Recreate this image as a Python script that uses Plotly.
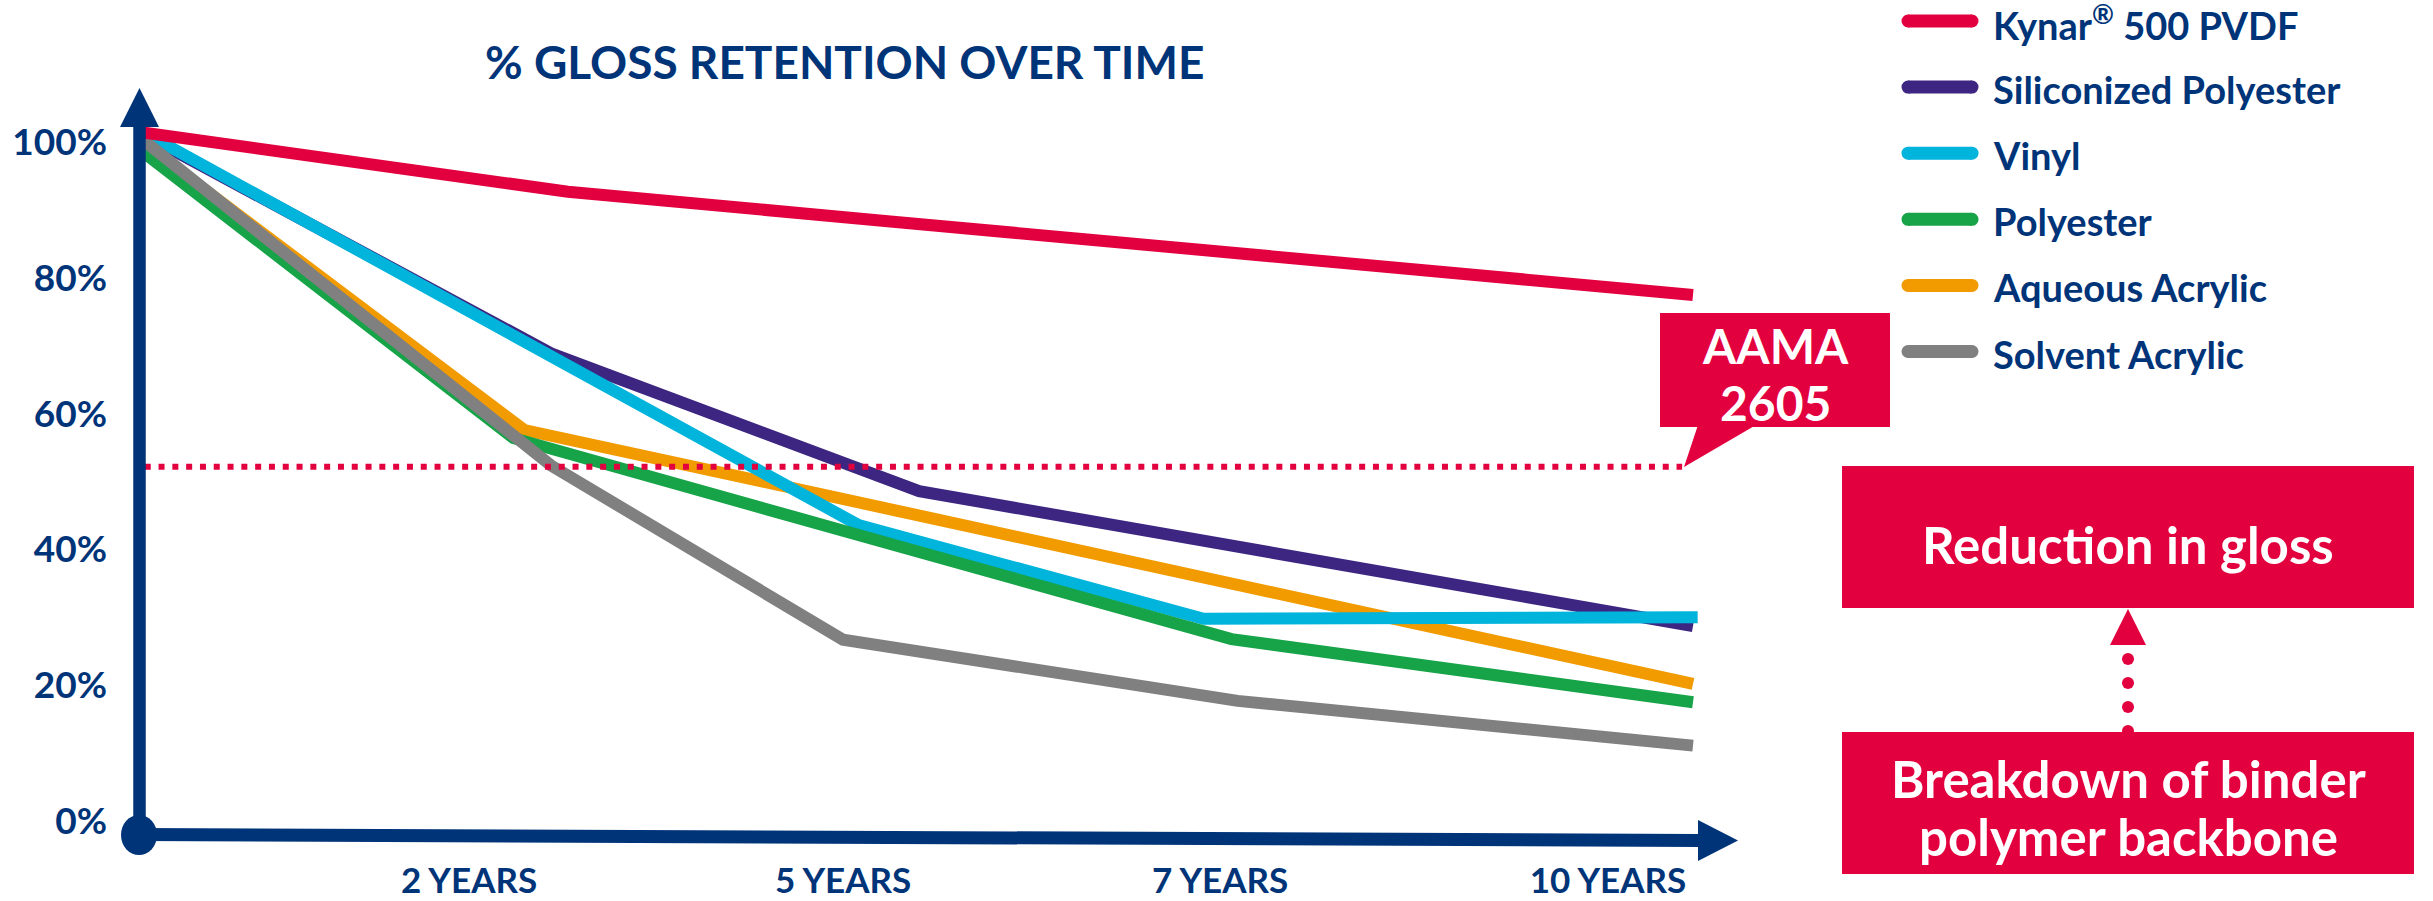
import plotly.graph_objects as go

# ---------------- data ----------------
series_names = ["Kynar<sup>®</sup> 500 PVDF", "Siliconized Polyester", "Vinyl",
                "Polyester", "Aqueous Acrylic", "Solvent Acrylic"]
series_colors = ["#E3003F", "#3D2682", "#00B4DC", "#17A348", "#F29B00", "#808080"]

# x positions (years on the drawn axis) and % gloss retained
kynar_x = [0, 2.76, 4.8, 7.0, 10.0]
kynar_y = [101.5, 92.7, 88.4, 83.8, 77.5]

silicon_x = [0, 2.66, 5.02, 7.0, 10.0]
silicon_y = [101.5, 68.8, 48.6, 40.7, 28.7]

vinyl_x = [0, 2.66, 4.63, 6.85, 10.03]
vinyl_y = [101.8, 68.4, 43.6, 29.8, 30.0]

polyester_x = [0, 2.41, 4.9, 7.03, 10.0]
polyester_y = [99.0, 56.4, 40.4, 26.8, 17.5]

aqueous_x = [0, 2.48, 4.8, 7.0, 10.0]
aqueous_y = [100.3, 57.6, 46.1, 35.1, 20.2]

solvent_x = [0, 2.65, 4.53, 7.07, 10.0]
solvent_y = [100.8, 52.4, 26.7, 17.7, 11.1]

series_x = [kynar_x, silicon_x, vinyl_x, polyester_x, aqueous_x, solvent_x]
series_y = [kynar_y, silicon_y, vinyl_y, polyester_y, aqueous_y, solvent_y]
draw_order = [1, 4, 2, 3, 5, 0]   # bottom -> top

x_tick_labels = ["2 YEARS", "5 YEARS", "7 YEARS", "10 YEARS"]
x_tick_pos = [2.124, 4.531, 6.957, 9.453]
y_tick_vals = [0, 20, 40, 60, 80, 100]
y_tick_labels = ["0%", "20%", "40%", "60%", "80%", "100%"]

aama_threshold = 52.2

title_text = "% GLOSS RETENTION OVER TIME"
aama_lines = ["AAMA", "2605"]
box_top_text = "Reduction in gloss"
box_bottom_lines = ["Breakdown of binder", "polymer backbone"]

# ---------------- layout geometry ----------------
W, H = 2433, 901
ML, MB = 139, 44
PW, PH = W - ML, H - MB
PX_PER_YEAR = 155.4
Y0_PX, Y100_PX = 821.0, 142.2
PX_PER_PCT = (Y0_PX - Y100_PX) / 100.0

NAVY = "#003479"
RED = "#E3003F"
FONT = "Lato"


def px(xp):
    return (xp - ML) / PW


def py(yp):
    return 1 - yp / PH


def path(points):
    return "M " + " L ".join(f"{px(a):.5f},{py(b):.5f}" for a, b in points) + " Z"


fig = go.Figure()

for i in draw_order:
    fig.add_trace(go.Scatter(
        x=series_x[i], y=series_y[i], mode="lines",
        line=dict(color=series_colors[i], width=12),
        name=series_names[i], showlegend=False, hoverinfo="skip"))

shapes = []
# AAMA threshold dotted line
shapes.append(dict(type="line", xref="x", yref="y", x0=0.037, x1=9.93,
                   y0=aama_threshold, y1=aama_threshold,
                   line=dict(color=RED, width=6, dash="6px,7.8px")))
# y axis
shapes.append(dict(type="line", xref="paper", yref="paper",
                   x0=px(139.5), x1=px(139.5), y0=py(834), y1=py(125),
                   line=dict(color=NAVY, width=12.5)))
shapes.append(dict(type="path", xref="paper", yref="paper",
                   path=path([(120, 127), (139.5, 88), (159, 127)]),
                   fillcolor=NAVY, line=dict(width=0)))
# x axis
shapes.append(dict(type="path", xref="paper", yref="paper",
                   path=path([(139, 828), (1700, 834), (1700, 847), (139, 841)]),
                   fillcolor=NAVY, line=dict(width=0)))
shapes.append(dict(type="path", xref="paper", yref="paper",
                   path=path([(1698, 820), (1738, 840.5), (1698, 861)]),
                   fillcolor=NAVY, line=dict(width=0)))
shapes.append(dict(type="circle", xref="paper", yref="paper",
                   x0=px(121), x1=px(157), y0=py(815), y1=py(855),
                   fillcolor=NAVY, line=dict(width=0)))

# AAMA callout
shapes.append(dict(type="rect", xref="paper", yref="paper",
                   x0=px(1660), x1=px(1890), y0=py(313), y1=py(427),
                   fillcolor=RED, line=dict(width=0)))
shapes.append(dict(type="path", xref="paper", yref="paper",
                   path=path([(1698, 425), (1684, 467), (1756, 425)]),
                   fillcolor=RED, line=dict(width=0)))

# dotted arrow between boxes
for cy in [659, 683, 707, 731]:
    shapes.append(dict(type="circle", xref="paper", yref="paper",
                       x0=px(2122), x1=px(2134), y0=py(cy - 6), y1=py(cy + 6),
                       fillcolor=RED, line=dict(width=0)))
shapes.append(dict(type="path", xref="paper", yref="paper",
                   path=path([(2110, 645), (2128, 609), (2146, 645)]),
                   fillcolor=RED, line=dict(width=0)))
# right boxes
shapes.append(dict(type="rect", xref="paper", yref="paper",
                   x0=px(1842), x1=px(2414), y0=py(466), y1=py(608),
                   fillcolor=RED, line=dict(width=0)))
shapes.append(dict(type="rect", xref="paper", yref="paper",
                   x0=px(1842), x1=px(2414), y0=py(732), y1=py(874),
                   fillcolor=RED, line=dict(width=0)))

annotations = []
annotations.append(dict(text=f"<b>{title_text}</b>", xref="paper", yref="paper",
                        x=px(844.5), y=py(62), xanchor="center", yanchor="middle",
                        showarrow=False, font=dict(family=FONT, size=46, color=NAVY)))

# manual legend
LEG_Y0, LEG_DY = 21, 66.1
for i, (nm, col) in enumerate(zip(series_names, series_colors)):
    cy = LEG_Y0 + i * LEG_DY
    shapes.append(dict(type="rect", xref="paper", yref="paper",
                       x0=px(1908), x1=px(1972), y0=py(cy - 6.5), y1=py(cy + 6.5),
                       fillcolor=col, line=dict(width=0)))
    for cx in (1908, 1972):
        shapes.append(dict(type="circle", xref="paper", yref="paper",
                           x0=px(cx - 6.5), x1=px(cx + 6.5), y0=py(cy - 6.5), y1=py(cy + 6.5),
                           fillcolor=col, line=dict(width=0)))
    annotations.append(dict(text=f"<b>{nm}</b>", xref="paper", yref="paper",
                            x=px(1991), y=py(cy + 2), xanchor="left", yanchor="middle",
                            showarrow=False, font=dict(family=FONT, size=38, color=NAVY)))

for txt, cy in zip(aama_lines, [342, 400]):
    annotations.append(dict(text=f"<b>{txt}</b>", xref="paper", yref="paper",
                            x=px(1775), y=py(cy + 3), xanchor="center", yanchor="middle",
                            showarrow=False, font=dict(family=FONT, size=48, color="white")))
annotations.append(dict(text=f"<b>{box_top_text}</b>", xref="paper", yref="paper",
                        x=px(2128), y=py(544), xanchor="center", yanchor="middle",
                        showarrow=False, font=dict(family=FONT, size=51, color="white")))
for txt, cy in zip(box_bottom_lines, [778, 836]):
    annotations.append(dict(text=f"<b>{txt}</b>", xref="paper", yref="paper",
                            x=px(2128), y=py(cy), xanchor="center", yanchor="middle",
                            showarrow=False, font=dict(family=FONT, size=51, color="white")))

fig.update_layout(
    width=W, height=H,
    margin=dict(l=ML, r=0, t=0, b=MB, pad=0),
    paper_bgcolor="white", plot_bgcolor="white",
    showlegend=False,
    shapes=shapes, annotations=annotations,
    xaxis=dict(range=[0, PW / PX_PER_YEAR], showgrid=False, zeroline=False, showline=False,
               tickvals=x_tick_pos, ticktext=[f"<b>{t}</b>" for t in x_tick_labels],
               ticks="", ticklabelstandoff=0,
               tickfont=dict(family=FONT, size=35, color=NAVY), fixedrange=True),
    yaxis=dict(range=[(Y0_PX - PH) / PX_PER_PCT, Y0_PX / PX_PER_PCT],
               showgrid=False, zeroline=False, showline=False,
               tickvals=y_tick_vals, ticktext=[f"<b>{t}</b>" for t in y_tick_labels],
               ticks="", ticklabelstandoff=31,
               tickfont=dict(family=FONT, size=37, color=NAVY), fixedrange=True),
)

fig.write_html("out.html", config={"displayModeBar": False},
               post_script="document.body.style.margin='0';document.body.style.overflow='hidden';")
